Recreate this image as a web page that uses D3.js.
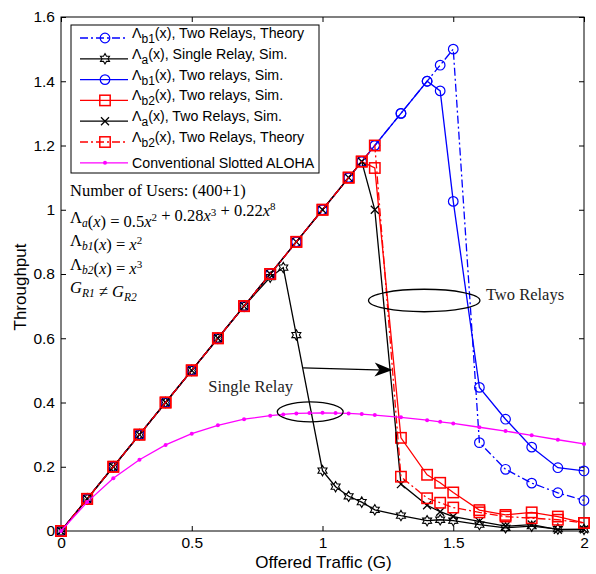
<!DOCTYPE html>
<html>
<head>
<meta charset="utf-8">
<script src="https://cdn.jsdelivr.net/npm/d3@7"></script>
<style>
  body { margin: 0; background: #fff; }
  svg { display: block; }
  .tick text { font-family: "Liberation Sans", Arial, sans-serif; font-size: 15.5px; fill: #000; }
  .axis path { display: none; }
  .axis line { stroke: #000; }
</style>
</head>
<body>
<div id="chart"></div>
<script>
// x grids
var xTwo = [0, 0.1, 0.2, 0.3, 0.4, 0.5, 0.6, 0.7, 0.8, 0.9, 1.0, 1.1, 1.15, 1.2, 1.3, 1.4, 1.45, 1.5, 1.6, 1.7, 1.8, 1.9, 2.0]
var xSingle = [0, 0.1, 0.2, 0.3, 0.4, 0.5, 0.6, 0.7, 0.8, 0.85, 0.9, 1.0, 1.05, 1.1, 1.15, 1.2, 1.3, 1.4, 1.45, 1.5, 1.6, 1.7, 1.8, 1.9, 2.0]
var xAloha = [0, 0.1, 0.2, 0.3, 0.4, 0.5, 0.6, 0.7, 0.8, 0.85, 0.9, 0.95, 1.0, 1.05, 1.1, 1.15, 1.2, 1.3, 1.4, 1.45, 1.5, 1.6, 1.7, 1.8, 1.9, 2.0]

// throughput values
var b1Theory = [0, 0.1, 0.2, 0.3, 0.4, 0.5, 0.6, 0.7, 0.8, 0.9, 1.0, 1.1, 1.15, 1.2, 1.3, 1.4, 1.45, 1.5, 0.275, 0.192, 0.149, 0.119, 0.095]
var aSingle = [0, 0.1, 0.2, 0.3, 0.4, 0.5, 0.6, 0.7, 0.79, 0.82, 0.61, 0.188, 0.138, 0.108, 0.09, 0.066, 0.048, 0.032, 0.035, 0.032, 0.02, 0.01, 0.015, 0.006, 0.005]
var b1Sim = [0, 0.1, 0.2, 0.3, 0.4, 0.5, 0.6, 0.7, 0.8, 0.9, 1.0, 1.1, 1.15, 1.2, 1.3, 1.4, 1.37, 1.026, 0.447, 0.348, 0.261, 0.197, 0.187]
var b2Sim = [0, 0.1, 0.2, 0.3, 0.4, 0.5, 0.6, 0.7, 0.8, 0.9, 1.0, 1.1, 1.15, 1.13, 0.29, 0.175, 0.15, 0.12, 0.065, 0.05, 0.058, 0.045, 0.025]
var aTwo = [0, 0.1, 0.2, 0.3, 0.4, 0.5, 0.6, 0.7, 0.8, 0.9, 1.0, 1.1, 1.15, 1.0, 0.146, 0.08, 0.06, 0.045, 0.03, 0.015, 0.02, 0.004, 0.005]
var b2Theory = [0, 0.1, 0.2, 0.3, 0.4, 0.5, 0.6, 0.7, 0.8, 0.9, 1.0, 1.1, 1.15, 1.2, 0.169, 0.102, 0.088, 0.073, 0.058, 0.045, 0.04, 0.035, 0.025]
var aloha = [0, 0.09, 0.164, 0.222, 0.268, 0.303, 0.329, 0.348, 0.359, 0.363, 0.366, 0.367, 0.368, 0.367, 0.366, 0.364, 0.361, 0.354, 0.345, 0.34, 0.335, 0.323, 0.311, 0.298, 0.284, 0.271]

var yTicks = [0, 0.2, 0.4, 0.6, 0.8, 1, 1.2, 1.4, 1.6]
var xTicks = [0, 0.5, 1, 1.5, 2]

var series = [
  {xs: xTwo, ys: b1Theory, color: "#0000ff", dash: "8,3,2,3", marker: "circle",
   label: [["Λ"], ["b1", 1], ["(x), Two Relays, Theory"]]},
  {xs: xSingle, ys: aSingle, color: "#000", dash: null, marker: "hexagram",
   label: [["Λ"], ["a", 1], ["(x), Single Relay, Sim."]]},
  {xs: xTwo, ys: b1Sim, color: "#0000ff", dash: null, marker: "circle",
   label: [["Λ"], ["b1", 1], ["(x), Two relays, Sim."]]},
  {xs: xTwo, ys: b2Sim, color: "#ff0000", dash: null, marker: "square",
   label: [["Λ"], ["b2", 1], ["(x), Two relays, Sim."]]},
  {xs: xTwo, ys: aTwo, color: "#000", dash: null, marker: "cross",
   label: [["Λ"], ["a", 1], ["(x), Two Relays, Sim."]]},
  {xs: xTwo, ys: b2Theory, color: "#ff0000", dash: "8,3,2,3", marker: "square",
   label: [["Λ"], ["b2", 1], ["(x), Two Relays, Theory"]]},
  {xs: xAloha, ys: aloha, color: "#ff00ff", dash: null, marker: "dot",
   label: [["Conventional Slotted ALOHA"]]}
]

var W = 596, H = 574
var m = {top: 17, right: 12, bottom: 43, left: 61}
var iw = W - m.left - m.right, ih = H - m.top - m.bottom

var svg = d3.select("#chart").append("svg").attr("width", W).attr("height", H)
var g = svg.append("g").attr("transform", "translate(" + m.left + "," + m.top + ")")

var x = d3.scaleLinear().domain([0, 2]).range([0, iw])
var y = d3.scaleLinear().domain([0, 1.6]).range([ih, 0])

g.append("g").attr("class", "axis").attr("transform", "translate(0," + ih + ")")
  .call(d3.axisBottom(x).tickValues(xTicks).tickSize(-5).tickPadding(6).tickFormat(d3.format("~g")))
g.append("g").attr("class", "axis")
  .call(d3.axisLeft(y).tickValues(yTicks).tickSize(-5).tickPadding(6).tickFormat(d3.format("~g")))
g.append("g").attr("class", "axis")
  .call(d3.axisTop(x).tickValues(xTicks).tickSize(-5).tickFormat(""))
g.append("g").attr("class", "axis").attr("transform", "translate(" + iw + ",0)")
  .call(d3.axisRight(y).tickValues(yTicks).tickSize(-5).tickFormat(""))

g.append("rect").attr("width", iw).attr("height", ih)
  .attr("fill", "none").attr("stroke", "#000").attr("stroke-width", 1)

svg.append("text").attr("x", m.left + iw / 2 + 1).attr("y", 568)
  .attr("text-anchor", "middle").attr("font-family", "Liberation Sans, Arial, sans-serif")
  .attr("font-size", 17).text("Offered Traffic (G)")
svg.append("text").attr("transform", "translate(26," + (m.top + ih / 2 + 13) + ") rotate(-90)")
  .attr("text-anchor", "middle").attr("font-family", "Liberation Sans, Arial, sans-serif")
  .attr("font-size", 17).text("Throughput")

function hexagram(r) {
  var pts = []
  for (var i = 0; i < 12; i++) {
    var a = Math.PI / 6 * i - Math.PI / 2
    var rr = i % 2 ? r * 0.58 : r
    pts.push([rr * Math.cos(a), rr * Math.sin(a)])
  }
  return "M" + pts.join("L") + "Z"
}

function drawMarker(sel, type, color) {
  if (type === "circle") sel.append("circle").attr("r", 4.8).attr("fill", "none").attr("stroke", color).attr("stroke-width", 1.2)
  else if (type === "square") sel.append("rect").attr("x", -5.2).attr("y", -5.2).attr("width", 10.4).attr("height", 10.4)
    .attr("fill", "none").attr("stroke", color).attr("stroke-width", 1.5)
  else if (type === "hexagram") sel.append("path").attr("d", hexagram(5.2)).attr("fill", "none").attr("stroke", color).attr("stroke-width", 1.1)
  else if (type === "cross") sel.append("path").attr("d", "M-4,-4L4,4M-4,4L4,-4").attr("stroke", color).attr("stroke-width", 1.3)
  else if (type === "dot") sel.append("circle").attr("r", 2).attr("fill", color)
}

var line = d3.line().x(d => x(d[0])).y(d => y(d[1]))
var plot = g.append("g")

series.forEach(s => {
  var pts = s.xs.map((v, i) => [v, s.ys[i]])
  plot.append("path").datum(pts).attr("d", line)
    .attr("fill", "none").attr("stroke", s.color).attr("stroke-width", 1.3)
    .attr("stroke-dasharray", s.dash)
  plot.append("g").selectAll("g").data(pts).join("g")
    .attr("transform", d => "translate(" + x(d[0]) + "," + y(d[1]) + ")")
    .each(function () { drawMarker(d3.select(this), s.marker, s.color) })
})

// annotations
var ann = g.append("g").attr("font-family", "Liberation Serif, Times New Roman, serif").attr("fill", "#222")
ann.append("ellipse").attr("cx", x(1.389)).attr("cy", y(0.7175)).attr("rx", x(0.213)).attr("ry", ih - y(0.035))
  .attr("fill", "none").attr("stroke", "#000").attr("stroke-width", 1.3)
ann.append("ellipse").attr("cx", x(0.953)).attr("cy", y(0.371)).attr("rx", x(0.126)).attr("ry", ih - y(0.031))
  .attr("fill", "none").attr("stroke", "#000").attr("stroke-width", 1.3)
ann.append("text").attr("x", x(1.625)).attr("y", y(0.72)).attr("font-size", 16.5).text("Two Relays")
ann.append("text").attr("x", x(0.563)).attr("y", y(0.432)).attr("font-size", 16.5).text("Single Relay")

var ax0 = x(0.926), ay0 = y(0.508), ax1 = x(1.268), ay1 = y(0.501)
ann.append("line").attr("x1", ax0).attr("y1", ay0).attr("x2", ax1 - 8).attr("y2", ay1)
  .attr("stroke", "#000").attr("stroke-width", 1.3)
var ang = Math.atan2(ay1 - ay0, ax1 - ax0)
ann.append("path").attr("d", "M0,0L-18,-7L-13,0L-18,7Z").attr("fill", "#000")
  .attr("transform", "translate(" + ax1 + "," + ay1 + ") rotate(" + ang * 180 / Math.PI + ")")

var info = ann.append("g").attr("font-size", 16.5).attr("fill", "#000")
function mathLine(yy, parts) {
  var t = info.append("text").attr("x", 9).attr("y", yy)
  parts.forEach(p => {
    var ts = t.append("tspan").text(p[0])
    if (p[1] === "i") ts.attr("font-style", "italic")
    if (p[1] === "sub") ts.attr("font-size", 11.5).attr("font-style", "italic").attr("dy", 4)
    if (p[1] === "sup") ts.attr("font-size", 11).attr("dy", -5.5)
    if (p[1] === "sub") t.append("tspan").attr("dy", -4).text("")
    if (p[1] === "sup") t.append("tspan").attr("dy", 5.5).text("")
  })
}
mathLine(y(1.042), [["Number of Users: (400+1)"]])
mathLine(y(0.96), [["Λ"], ["a", "sub"], ["("], ["x", "i"], [") = 0.5"], ["x", "i"], ["2", "sup"], [" + 0.28"], ["x", "i"], ["3", "sup"], [" + 0.22"], ["x", "i"], ["8", "sup"]])
mathLine(y(0.888), [["Λ"], ["b1", "sub"], ["("], ["x", "i"], [") = "], ["x", "i"], ["2", "sup"]])
mathLine(y(0.813), [["Λ"], ["b2", "sub"], ["("], ["x", "i"], [") = "], ["x", "i"], ["3", "sup"]])
mathLine(y(0.74), [["G", "i"], ["R1", "sub"], [" ≠ "], ["G", "i"], ["R2", "sub"]])

// legend
var lg = svg.append("g").attr("transform", "translate(71,25)")
lg.append("rect").attr("width", 248).attr("height", 148).attr("fill", "#fff").attr("stroke", "#000").attr("stroke-width", 1)
series.forEach((s, i) => {
  var row = lg.append("g").attr("transform", "translate(0," + (13 + i * 20.8) + ")")
  row.append("line").attr("x1", 9).attr("x2", 57).attr("stroke", s.color).attr("stroke-width", 1.3)
    .attr("stroke-dasharray", s.dash)
  drawMarker(row.append("g").attr("transform", "translate(34,0)"), s.marker, s.color)
  var t = row.append("text").attr("x", 61).attr("y", 5)
    .attr("font-family", "Liberation Sans, Arial, sans-serif").attr("font-size", 14.2)
  s.label.forEach(p => {
    if (p[1]) t.append("tspan").attr("dy", 5).attr("font-size", 12).text(p[0])
    else t.append("tspan").attr("dy", t.selectAll("tspan").size() > 0 && s.label.length > 1 ? -5 : 0).text(p[0])
  })
})
</script>
</body>
</html>
